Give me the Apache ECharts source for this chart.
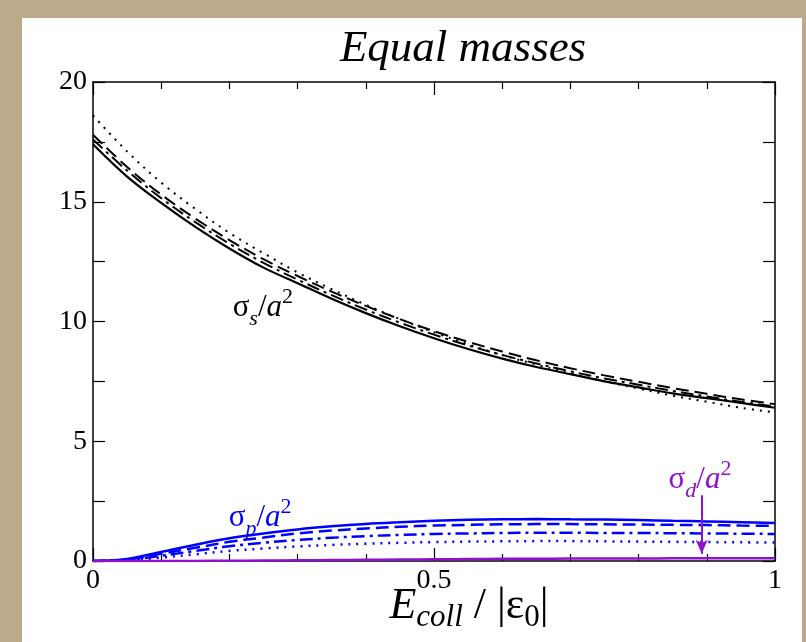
<!DOCTYPE html>
<html>
<head>
<meta charset="utf-8">
<script src="https://cdn.jsdelivr.net/npm/echarts@6/dist/echarts.min.js"></script>
<style>
html,body{margin:0;padding:0;width:806px;height:642px;overflow:hidden;background:#bcab8b;}
#panel{position:absolute;left:22px;top:18px;width:780px;height:624px;background:#fff;}
#chart{position:absolute;left:0;top:0;width:806px;height:642px;}
</style>
</head>
<body>
<div id="panel"></div>
<div id="chart"></div>
<script>
// collision energy grid
var xs=[0,0.05,0.1,0.15,0.2,0.25,0.3,0.35,0.4,0.45,0.5,0.55,0.6,0.65,0.7,0.75,0.8,0.85,0.9,0.95,1];
// s-wave cross sections
var sSolid=[17.4,16.05,14.95,13.95,13.05,12.25,11.6,10.95,10.35,9.8,9.3,8.85,8.45,8.1,7.8,7.5,7.25,7.0,6.8,6.6,6.4];
var sDash=[17.8,16.45,15.3,14.3,13.4,12.6,11.9,11.25,10.65,10.1,9.6,9.15,8.75,8.38,8.05,7.75,7.48,7.22,6.98,6.75,6.55];
var sDashDot=[17.6,16.3,15.15,14.15,13.25,12.45,11.75,11.1,10.5,9.95,9.45,9.0,8.6,8.25,7.92,7.62,7.36,7.1,6.87,6.65,6.45];
var sDot=[18.6,17.1,15.8,14.7,13.7,12.85,12.05,11.35,10.7,10.1,9.55,9.05,8.6,8.2,7.85,7.5,7.2,6.9,6.65,6.4,6.2];
// p-wave
var pSolid=[0,0.08,0.38,0.68,0.95,1.15,1.32,1.45,1.55,1.62,1.68,1.72,1.74,1.75,1.74,1.73,1.71,1.68,1.65,1.62,1.59];
var pDash=[0,0.06,0.3,0.55,0.8,0.98,1.15,1.27,1.36,1.43,1.48,1.51,1.53,1.54,1.54,1.53,1.52,1.51,1.5,1.48,1.47];
var pDashDot=[0,0.04,0.22,0.42,0.62,0.76,0.88,0.97,1.04,1.09,1.13,1.15,1.17,1.18,1.18,1.17,1.17,1.16,1.15,1.14,1.13];
var pDot=[0,0.03,0.14,0.28,0.42,0.52,0.61,0.67,0.72,0.76,0.79,0.81,0.82,0.83,0.83,0.82,0.81,0.8,0.79,0.78,0.77];
// d-wave
var dSolid=[0,0,0,0.005,0.01,0.02,0.03,0.04,0.05,0.06,0.07,0.08,0.09,0.095,0.1,0.1,0.105,0.11,0.11,0.11,0.11];
// annotations
var noteText=['{g|σ}{sub|s}{g|/}{i|a}{sup|2}','{g|σ}{sub|p}{g|/}{i|a}{sup|2}','{g|σ}{sub|d}{g|/}{i|a}{sup|2}'];
var notePos=[[0.249,10.56],[0.245,1.8],[0.89,3.38]];
var noteColor=['#000','#0000ff','#9010d0'];
var arrowFrom=[0.8925,2.75];
var arrowTo=[0.8925,0.3];

var serif='"Liberation Serif","DejaVu Serif",serif';
function pairs(ys){
	var out=[];
	for(var i=0;i<xs.length;i++){ out.push([xs[i],ys[i]]); }
	return out;
}
function curve(ys,color,dash,width){
	return {
		type:'line',
		data:pairs(ys),
		smooth:0.35,
		showSymbol:false,
		silent:true,
		lineStyle:{color:color,width:width,type:dash}
	};
}
var rich={
	g:{fontFamily:serif,fontSize:31,lineHeight:44,verticalAlign:'middle'},
	i:{fontFamily:serif,fontSize:31,fontStyle:'italic',lineHeight:44,verticalAlign:'middle'},
	sub:{fontFamily:serif,fontSize:22,fontStyle:'italic',lineHeight:44,verticalAlign:'bottom',padding:[14,0,0,0]},
	sup:{fontFamily:serif,fontSize:22,lineHeight:44,verticalAlign:'top',padding:[0,0,14,0]}
};
function richColored(c){
	var r={};
	for(var k in rich){ r[k]=Object.assign({},rich[k],{color:c}); }
	return r;
}
var noteData=[];
for(var n=0;n<notePos.length;n++){
	noteData.push({
		value:notePos[n],
		itemStyle:{opacity:1},
		label:{show:true,position:'inside',opacity:1,formatter:noteText[n],rich:richColored(noteColor[n])}
	});
}

var dashed=[13,6];
var dashDot=[13,5,3,5];
var dotted=[2,6];

var axisLineStyle={onZero:false,lineStyle:{color:'#000',width:1.5}};

var myChart=echarts.init(document.getElementById('chart'));
var option={
	animation:false,
	title:{
		text:'Equal masses',
		left:458,
		top:22,
		textAlign:'center',
		textStyle:{fontFamily:serif,fontStyle:'italic',fontWeight:'normal',fontSize:45,color:'#000'}
	},
	grid:{left:93,top:82,right:31,bottom:81,outerBoundsMode:'none',containLabel:false},
	xAxis:[
		{
			type:'value',min:0,max:1,interval:0.5,
			axisLine:axisLineStyle,
			axisTick:{inside:true,length:13,lineStyle:{color:'#000',width:1.2}},
			minorTick:{show:true,splitNumber:5,length:7,lineStyle:{color:'#000',width:1.2}},
			splitLine:{show:false},
			axisLabel:{color:'#000',fontFamily:serif,fontSize:28,margin:6},
			name:'{i|E}{sub|coll}{g| / |ε}{sub0|0}{g||}',
			nameLocation:'middle',
			nameMoveOverlap:false,
			nameGap:45,
			nameTextStyle:{
				verticalAlign:'middle',
				padding:[0,0,0,70],
				rich:{
					g:{fontFamily:serif,fontSize:44,color:'#000',lineHeight:54},
					i:{fontFamily:serif,fontSize:44,fontStyle:'italic',color:'#000',lineHeight:54},
					sub:{fontFamily:serif,fontSize:31,fontStyle:'italic',color:'#000',lineHeight:54,verticalAlign:'bottom',padding:[18,0,0,0]},
					sub0:{fontFamily:serif,fontSize:31,color:'#000',lineHeight:54,verticalAlign:'bottom',padding:[18,0,0,0]}
				}
			}
		},
		{
			type:'value',min:0,max:1,interval:0.5,position:'top',
			axisLine:axisLineStyle,
			axisTick:{inside:true,length:13,lineStyle:{color:'#000',width:1.2}},
			minorTick:{show:true,splitNumber:5,length:7,lineStyle:{color:'#000',width:1.2}},
			splitLine:{show:false},
			axisLabel:{show:false}
		}
	],
	yAxis:[
		{
			type:'value',min:0,max:20,interval:5,
			axisLine:Object.assign({show:true},axisLineStyle),
			axisTick:{show:true,inside:true,length:12,lineStyle:{color:'#000',width:1.2}},
			minorTick:{show:true,splitNumber:2,length:12,lineStyle:{color:'#000',width:1.2}},
			splitLine:{show:false},
			axisLabel:{color:'#000',fontFamily:serif,fontSize:28,margin:6}
		},
		{
			type:'value',min:0,max:20,interval:5,position:'right',
			axisLine:Object.assign({show:true},axisLineStyle),
			axisTick:{show:true,inside:true,length:12,lineStyle:{color:'#000',width:1.2}},
			minorTick:{show:true,splitNumber:2,length:12,lineStyle:{color:'#000',width:1.2}},
			splitLine:{show:false},
			axisLabel:{show:false}
		}
	],
	series:[
		curve(sDot,'#000',dotted,2),
		curve(sDashDot,'#000',dashDot,2),
		curve(sDash,'#000',dashed,2),
		curve(sSolid,'#000','solid',2.2),
		curve(pDot,'#0000ff',dotted,2.5),
		curve(pDashDot,'#0000ff',dashDot,2.5),
		curve(pDash,'#0000ff',dashed,2.5),
		curve(pSolid,'#0000ff','solid',2.5),
		{
			type:'line',
			data:pairs(dSolid),
			smooth:0.35,
			showSymbol:false,
			silent:true,
			lineStyle:{color:'#9010d0',width:2.5},
			markLine:{
				silent:true,
				symbol:['none','arrow'],
				symbolSize:[9,14],
				label:{show:false},
				lineStyle:{color:'#9010d0',width:2,type:'solid'},
				data:[[{coord:arrowFrom},{coord:arrowTo}]]
			}
		},
		{
			type:'scatter',
			symbolSize:0,
			silent:true,
			itemStyle:{opacity:1},
			data:noteData
		}
	]
};
myChart.setOption(option);
</script>
</body>
</html>
